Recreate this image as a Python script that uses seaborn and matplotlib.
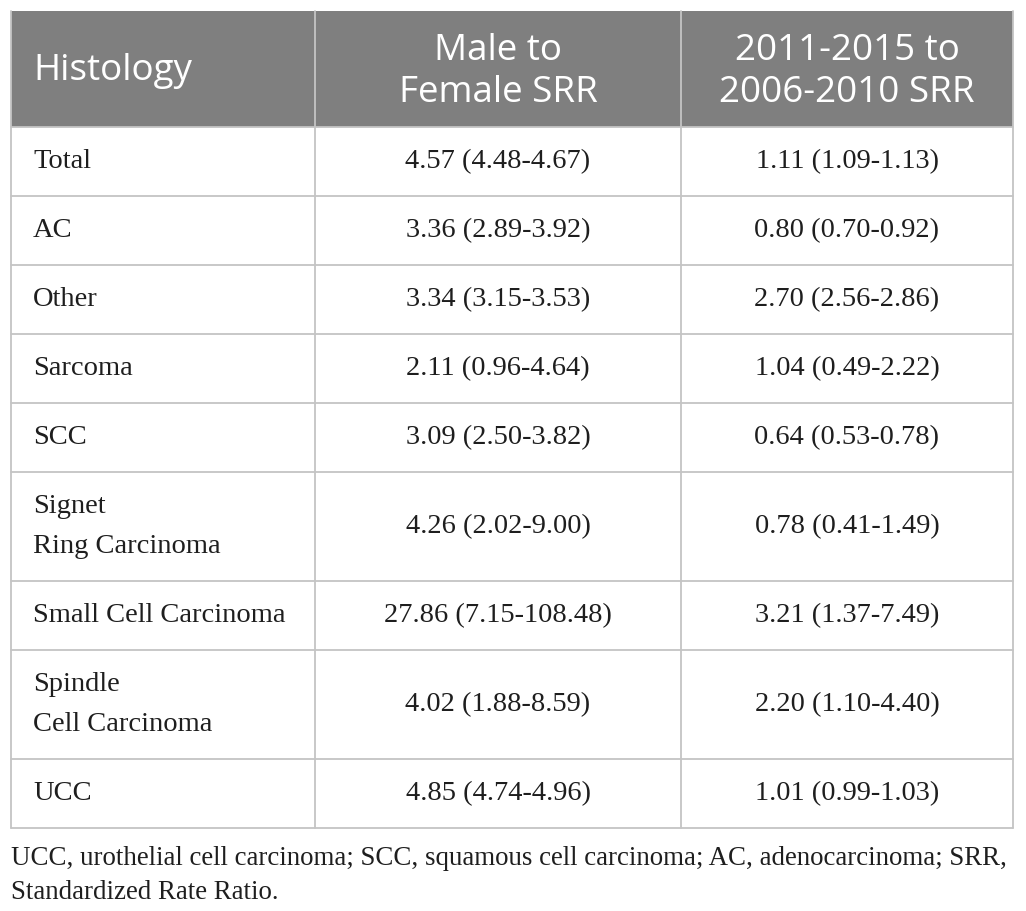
"""Table: standardized rate ratios by histology."""

import matplotlib
matplotlib.use("Agg")
import matplotlib.pyplot as plt
from matplotlib.patches import Rectangle
import pandas as pd
import seaborn as sns

# --- data ---
histology = ["Total", "AC", "Other", "Sarcoma", "SCC", "Signet\nRing Carcinoma",
             "Small Cell Carcinoma", "Spindle\nCell Carcinoma", "UCC"]
male_female_srr = ["4.57 (4.48-4.67)", "3.36 (2.89-3.92)", "3.34 (3.15-3.53)",
                   "2.11 (0.96-4.64)", "3.09 (2.50-3.82)", "4.26 (2.02-9.00)",
                   "27.86 (7.15-108.48)", "4.02 (1.88-8.59)", "4.85 (4.74-4.96)"]
period_srr = ["1.11 (1.09-1.13)", "0.80 (0.70-0.92)", "2.70 (2.56-2.86)",
              "1.04 (0.49-2.22)", "0.64 (0.53-0.78)", "0.78 (0.41-1.49)",
              "3.21 (1.37-7.49)", "2.20 (1.10-4.40)", "1.01 (0.99-1.03)"]
headers = ["Histology", "Male to\nFemale SRR", "2011-2015 to\n2006-2010 SRR"]
footnote = ("UCC, urothelial cell carcinoma; SCC, squamous cell carcinoma; AC, adenocarcinoma; SRR,\n"
            "Standardized Rate Ratio.")

df = pd.DataFrame({"Histology": histology, "MF": male_female_srr, "Period": period_srr})

sns.set_theme(style="white")

W, H = 1026, 911
fig = plt.figure(figsize=(W / 100, H / 100), dpi=100)
ax = fig.add_axes([0, 0, 1, 1])
ax.set_xlim(0, W)
ax.set_ylim(H, 0)
ax.axis("off")

# layout (pixels)
col_edges = [11, 315, 681, 1013]
top, head_bottom = 11, 127
base_h, line_h = 69, 40
grid = "#c4c4c4"
header_bg = "#7f7f7f"
body_font = "Liberation Serif"
head_font = "Open Sans"
ink = "#1e1e1e"

# header
ax.add_patch(Rectangle((col_edges[0], top), col_edges[-1] - col_edges[0],
                       head_bottom - top, facecolor=header_bg, edgecolor="none"))
head_y = (top + head_bottom) / 2 + 3
for i, h in enumerate(headers):
    if i == 0:
        ax.text(col_edges[0] + 22, head_y - 1, h, ha="left", va="center", color="white",
                fontsize=26.5, family=head_font, linespacing=1.2)
    else:
        ax.text((col_edges[i] + col_edges[i + 1]) / 2, head_y, h, ha="center",
                va="center", color="white", fontsize=26.5, family=head_font,
                linespacing=1.2)

# body rows
y = head_bottom
row_lines = [head_bottom]
for _, r in df.iterrows():
    n = r["Histology"].count("\n") + 1
    rh = base_h + line_h * (n - 1)
    cy = y + rh / 2
    ax.text(col_edges[0] + 22, cy, r["Histology"], ha="left", va="center",
            fontsize=20.5, family=body_font, color=ink, linespacing=1.75)
    ax.text((col_edges[1] + col_edges[2]) / 2, cy, r["MF"], ha="center", va="center",
            fontsize=20.5, family=body_font, color=ink)
    ax.text((col_edges[2] + col_edges[3]) / 2, cy, r["Period"], ha="center", va="center",
            fontsize=20.5, family=body_font, color=ink)
    y += rh
    row_lines.append(y)

# grid lines
for yy in row_lines:
    ax.plot([col_edges[0], col_edges[-1]], [yy, yy], color=grid, lw=1.3)
for xx in col_edges:
    ax.plot([xx, xx], [top, row_lines[-1]], color=grid, lw=1.3)

# footnote
ax.text(col_edges[0], row_lines[-1] + 18, footnote, ha="left", va="top",
        fontsize=19.4, family=body_font, color=ink, linespacing=1.45)

fig.savefig("out.png", dpi=100)
